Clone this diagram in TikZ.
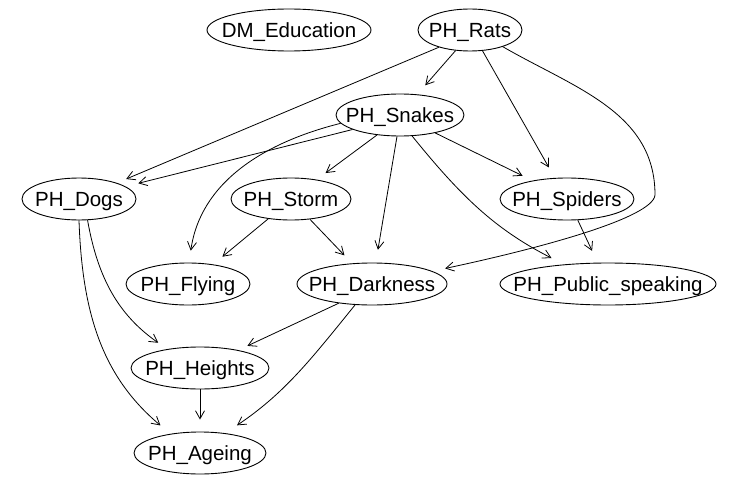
\documentclass[tikz,border=0pt]{standalone}
\usepackage{fontspec}
\setmainfont{Liberation Sans}
\usetikzlibrary{shapes.geometric,arrows.meta}
\newcommand\nlab[1]{\makebox[0pt]{#1}}
\begin{document}
\begin{tikzpicture}[x=1pt,y=-1pt,
  nd/.style={draw,ellipse,line width=0.9pt,inner sep=0pt,text height=14.7pt,text depth=0pt,font=\fontsize{20.5}{24}\selectfont},
  arr/.style={-{Straight Barb[length=8pt,width=9pt]},line width=0.8pt}]
\useasboundingbox (0,0) rectangle (749,484);
\fill[white] (0,0) rectangle (749,484);
\node[nd,minimum width=164pt,minimum height=42pt] (edu) at (289,30) {\nlab{DM\_Education}};
\node[nd,minimum width=104pt,minimum height=42pt] (rats) at (470,30) {\nlab{PH\_Rats}};
\node[nd,minimum width=128pt,minimum height=42pt] (snakes) at (400,115) {\nlab{PH\_Snakes}};
\node[nd,minimum width=114pt,minimum height=42pt] (dogs) at (79,199) {\nlab{PH\_Dogs}};
\node[nd,minimum width=120pt,minimum height=42pt] (storm) at (291,199) {\nlab{PH\_Storm}};
\node[nd,minimum width=134pt,minimum height=42pt] (spiders) at (567,199) {\nlab{PH\_Spiders}};
\node[nd,minimum width=124pt,minimum height=42pt] (flying) at (188,284) {\nlab{PH\_Flying}};
\node[nd,minimum width=150pt,minimum height=42pt] (dark) at (372,284) {\nlab{PH\_Darkness}};
\node[nd,minimum width=216pt,minimum height=42pt] (public) at (608,284) {\nlab{PH\_Public\_speaking}};
\node[nd,minimum width=138pt,minimum height=42pt] (heights) at (200,368) {\nlab{PH\_Heights}};
\node[nd,minimum width=132pt,minimum height=42pt] (ageing) at (200,453) {\nlab{PH\_Ageing}};
\coordinate (bend) at (655,195);
\draw[arr,shorten >=12pt] (rats.235) -- (snakes.50);
\draw[arr,shorten >=10pt] (rats.209) -- (dogs.23);
\draw[arr,shorten >=13pt] (snakes.197) -- (dogs.15);
\draw[arr,shorten >=12pt] (snakes.188) to[out=194,in=82] (flying.87);
\draw[arr,shorten >=11pt] (snakes.221) -- (storm.37);
\draw[arr,shorten >=13pt] (snakes.262) -- (dark.80);
\draw[arr,shorten >=14pt] (snakes.300) to[out=309,in=153] (public.156);
\draw[arr,shorten >=11pt] (snakes.333) -- (spiders.152);
\draw[arr,shorten >=12pt] (rats.301) -- (spiders.120);
\draw[arr,shorten >=13pt] (rats.333) to[out=-30,in=90] (bend) to[out=-95,in=12,out looseness=0.25,in looseness=1.2] (dark.12);
\draw[arr,shorten >=13pt] (spiders.297) -- (public.116);
\draw[arr,shorten >=12pt] (storm.221) -- (flying.38);
\draw[arr,shorten >=11pt] (storm.313) -- (dark.134);
\draw[arr,shorten >=11pt] (dogs.292) to[out=-80,in=145] (heights.150);
\draw[arr,shorten >=13pt] (dogs.270) to[out=-88,in=140] (ageing.147);
\draw[arr,shorten >=10pt] (dark.210) -- (heights.25);
\draw[arr,shorten >=14pt] (dark.231) to[out=231,in=34] (ageing.38);
\draw[arr,shorten >=12pt] (heights.270) -- (ageing.90);
\end{tikzpicture}
\end{document}
